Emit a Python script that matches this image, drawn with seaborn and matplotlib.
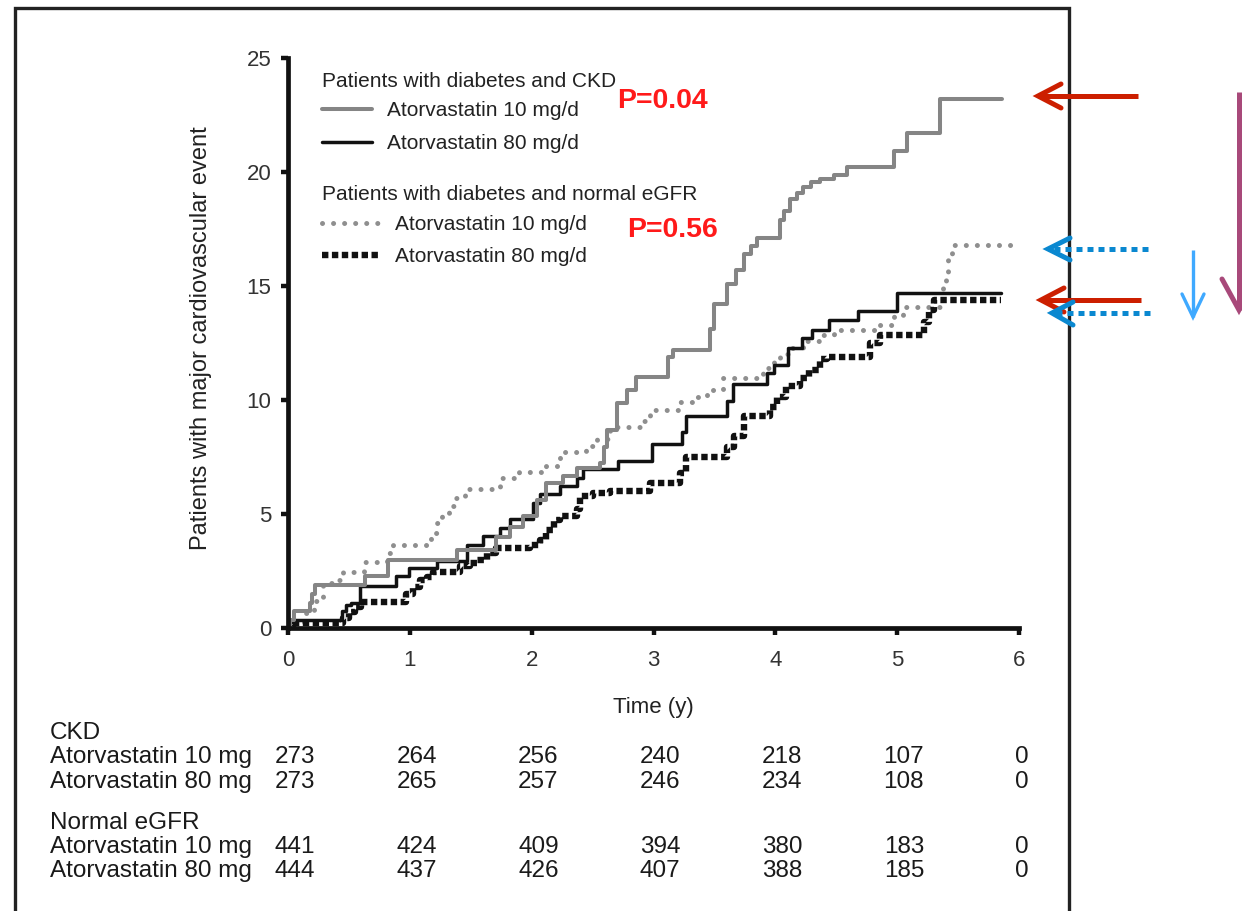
import numpy as np
import pandas as pd
import matplotlib
matplotlib.use("Agg")
import matplotlib.pyplot as plt
import seaborn as sns
from matplotlib.lines import Line2D
from matplotlib.transforms import blended_transform_factory

# Cumulative % of patients with a major cardiovascular event (step curves)
ckd_10_time = [0, 0.02, 0.05, 0.18, 0.20, 0.22, 0.63, 0.82, 1.39, 1.71, 1.82, 1.93, 2.04, 2.12,
               2.26, 2.37, 2.56, 2.59, 2.62, 2.70, 2.78, 2.86, 3.12, 3.16, 3.46, 3.50, 3.60, 3.68,
               3.74, 3.80, 3.85, 4.04, 4.07, 4.12, 4.18, 4.23, 4.29, 4.37, 4.48, 4.59, 4.97, 5.08,
               5.35, 5.86]
ckd_10_pct = [0, 0.37, 0.73, 1.10, 1.47, 1.90, 2.30, 2.98, 3.40, 4.00, 4.45, 4.90, 5.60, 6.35,
              6.65, 7.00, 7.25, 7.95, 8.70, 9.85, 10.45, 11.00, 11.90, 12.20, 13.10, 14.20, 15.10, 15.70,
              16.40, 16.75, 17.10, 17.90, 18.30, 18.80, 19.10, 19.35, 19.55, 19.70, 19.85, 20.20, 20.90, 21.70,
              23.20, 23.20]

ckd_80_time = [0, 0.05, 0.44, 0.48, 0.52, 0.59, 0.89, 0.99, 1.22, 1.47, 1.60, 1.74, 1.82, 2.01,
               2.07, 2.23, 2.37, 2.42, 2.71, 2.99, 3.23, 3.27, 3.60, 3.65, 3.93, 3.99, 4.10, 4.22,
               4.30, 4.44, 4.68, 5.00, 5.85]
ckd_80_pct = [0, 0.37, 0.73, 1.00, 1.10, 1.83, 2.26, 2.63, 2.93, 3.66, 4.03, 4.40, 4.76, 5.50,
              5.86, 6.23, 6.60, 6.96, 7.33, 8.06, 8.60, 9.30, 9.95, 10.70, 11.20, 11.55, 12.30, 12.70,
              13.05, 13.50, 13.90, 14.70, 14.70]

egfr_10_time = [0, 0.05, 0.13, 0.21, 0.29, 0.40, 0.45, 0.62, 0.81, 0.86, 1.17, 1.22, 1.26, 1.32,
                1.37, 1.45, 1.74, 1.90, 2.12, 2.23, 2.45, 2.54, 2.64, 2.92, 2.97, 3.22, 3.33, 3.44,
                3.57, 3.90, 3.99, 4.04, 4.12, 4.23, 4.37, 4.48, 4.86, 4.97, 5.05, 5.38, 5.40, 5.42,
                5.45, 5.96]
egfr_10_pct = [0, 0.25, 0.64, 1.20, 1.96, 2.10, 2.47, 2.90, 3.27, 3.65, 4.15, 4.60, 5.00, 5.35,
               5.70, 6.10, 6.60, 6.84, 7.10, 7.70, 8.00, 8.30, 8.80, 9.10, 9.56, 9.93, 10.15, 10.44,
               10.96, 11.40, 11.70, 12.00, 12.30, 12.60, 12.85, 13.07, 13.30, 13.70, 14.10, 14.90, 15.60, 16.30,
               16.80, 16.80]

egfr_80_time = [0, 0.05, 0.45, 0.50, 0.55, 0.60, 0.97, 1.03, 1.08, 1.14, 1.19, 1.41, 1.49, 1.55,
                1.63, 1.71, 1.99, 2.07, 2.12, 2.18, 2.23, 2.37, 2.40, 2.50, 2.64, 2.97, 3.22, 3.27,
                3.60, 3.66, 3.74, 3.96, 4.01, 4.09, 4.20, 4.28, 4.37, 4.42, 4.78, 4.86, 5.22, 5.26,
                5.30, 5.85]
egfr_80_pct = [0, 0.23, 0.45, 0.70, 0.90, 1.15, 1.50, 1.80, 2.10, 2.25, 2.47, 2.70, 2.85, 3.00,
               3.30, 3.50, 3.64, 3.86, 4.30, 4.74, 4.90, 5.20, 5.80, 5.90, 6.00, 6.35, 6.80, 7.50,
               7.95, 8.40, 9.30, 9.70, 10.15, 10.60, 10.96, 11.30, 11.80, 11.90, 12.50, 12.85, 13.40, 13.95,
               14.40, 14.40]

# Numbers at risk
risk_years = [0, 1, 2, 3, 4, 5, 6]
risk_ckd_10 = [273, 264, 256, 240, 218, 107, 0]
risk_ckd_80 = [273, 265, 257, 246, 234, 108, 0]
risk_egfr_10 = [441, 424, 409, 394, 380, 183, 0]
risk_egfr_80 = [444, 437, 426, 407, 388, 185, 0]

legend_ckd_title = "Patients with diabetes and CKD"
legend_egfr_title = "Patients with diabetes and normal eGFR"
dose_labels = ["Atorvastatin 10 mg/d", "Atorvastatin 80 mg/d"]
p_values = ["P=0.04", "P=0.56"]

sns.set_theme(style="ticks")
plt.rcParams["font.family"] = ["Liberation Sans", "DejaVu Sans"]
plt.rcParams["text.color"] = "#222222"
plt.rcParams["axes.labelcolor"] = "#222222"

W, H = 1242, 911
fig = plt.figure(figsize=(W / 100, H / 100), dpi=100)
fig.patch.set_facecolor("white")
ax = fig.add_axes([288 / W, 1 - 628 / H, (1019 - 288) / W, (628 - 58) / H])
ax.set_facecolor("white")

styles = {
    "ckd10": dict(color="#858585", linewidth=2.9, linestyle="-"),
    "ckd80": dict(color="#111111", linewidth=2.5, linestyle="-"),
    "egfr10": dict(color="#8f8f8f", linewidth=3.6, linestyle=(0, (0.01, 2.2)),
                   dash_capstyle="round"),
    "egfr80": dict(color="#111111", linewidth=4.6, linestyle=(0, (1.0, 0.55)),
                   dash_capstyle="butt"),
}

frames = []
for key, t, v in [("ckd10", ckd_10_time, ckd_10_pct), ("ckd80", ckd_80_time, ckd_80_pct),
                  ("egfr10", egfr_10_time, egfr_10_pct), ("egfr80", egfr_80_time, egfr_80_pct)]:
    frames.append(pd.DataFrame({"time": t, "pct": v, "group": key}))
df = pd.concat(frames, ignore_index=True)

for key in ["egfr10", "egfr80", "ckd80", "ckd10"]:
    sns.lineplot(data=df[df["group"] == key], x="time", y="pct", ax=ax,
                 drawstyle="steps-post", estimator=None, sort=False, legend=False,
                 **styles[key])

ax.set_xlim(0, 6)
ax.set_ylim(0, 25)
ax.set_xticks(risk_years)
ax.set_yticks([0, 5, 10, 15, 20, 25])
sns.despine(ax=ax)
for s in ["left", "bottom"]:
    ax.spines[s].set_linewidth(3.4)
    ax.spines[s].set_color("#111111")
    ax.spines[s].set_capstyle("projecting")
ax.tick_params(axis="both", direction="out", length=5, width=3.2, color="#111111",
               labelsize=16, labelcolor="#333333")
ax.tick_params(axis="x", pad=11)
ax.tick_params(axis="y", pad=7)
ax.set_xlabel("Time (y)", fontsize=16)
ax.set_ylabel("Patients with major cardiovascular event", fontsize=17)
ax.xaxis.set_label_coords(0.5, -0.121)
ax.yaxis.set_label_coords(-0.104, 0.509)

# Legends, one per patient group, each with a header line above it
def handle(key):
    return Line2D([], [], **styles[key])

ax.text(0.0465, 0.9596, legend_ckd_title, transform=ax.transAxes, fontsize=15,
        va="center", ha="left")
leg1 = ax.legend(handles=[handle("ckd10"), handle("ckd80")], labels=dose_labels,
                 loc="upper left", bbox_to_anchor=(0.0465, 0.9245),
                 frameon=False, handlelength=2.4, handletextpad=0.72,
                 labelspacing=0.69, borderpad=0, borderaxespad=0, fontsize=15)
ax.add_artist(leg1)
ax.text(0.0465, 0.7614, legend_egfr_title, transform=ax.transAxes, fontsize=15,
        va="center", ha="left")
leg2 = ax.legend(handles=[handle("egfr10"), handle("egfr80")], labels=dose_labels,
                 loc="upper left", bbox_to_anchor=(0.0465, 0.7245),
                 frameon=False, handlelength=2.7, handletextpad=0.8,
                 labelspacing=0.64, borderpad=0, borderaxespad=0, fontsize=15)

ax.text(2.70, 23.1, p_values[0], color="#ff1a1a", fontsize=20.5, fontweight="bold",
        va="center", ha="left")
ax.text(2.78, 17.45, p_values[1], color="#ff1a1a", fontsize=20.5, fontweight="bold",
        va="center", ha="left")

# Numbers-at-risk table below the axis
tab = blended_transform_factory(ax.transData, fig.transFigure)
rows = [("CKD", None, 733), ("Atorvastatin 10 mg", risk_ckd_10, 757),
        ("Atorvastatin 80 mg", risk_ckd_80, 782), ("Normal eGFR", None, 823),
        ("Atorvastatin 10 mg", risk_egfr_10, 847), ("Atorvastatin 80 mg", risk_egfr_80, 871)]
for label, counts, ypix in rows:
    fig.text(50 / W, 1 - ypix / H, label, fontsize=17.5, va="center", ha="left", color="#1a1a1a")
    if counts is not None:
        for yr, n in zip(risk_years, counts):
            ax.text(yr + (0.055 if yr < 6 else 0.02), 1 - ypix / H, str(n), transform=tab,
                    fontsize=17.5, va="center", ha="center", color="#1a1a1a")

# Figure frame and side arrows (pixel coordinates, top-left origin)
def fig_line(xs, ys, **kw):
    fig.add_artist(Line2D([x / W for x in xs], [1 - y / H for y in ys],
                          transform=fig.transFigure, **kw))

fig_line([15, 15, 1069, 1069], [925, 8, 8, 925], color="#222222", linewidth=2.4,
         solid_joinstyle="miter")

def arrow(tail, tip, arm1, arm2, color, lw, ls="-"):
    fig_line([tail[0], tip[0]], [tail[1], tip[1]], color=color, linewidth=lw, linestyle=ls,
             solid_capstyle="butt", dash_capstyle="butt")
    fig_line([arm1[0], tip[0], arm2[0]], [arm1[1], tip[1], arm2[1]], color=color, linewidth=lw,
             solid_capstyle="round", solid_joinstyle="miter")

red = "#cc1f00"
blue = "#0a88d0"
arrow((1138, 96), (1038, 96), (1061, 84), (1061, 108), red, 3.6)
arrow((1141, 300), (1041, 300), (1064, 288), (1064, 312), red, 3.6)
arrow((1148, 249), (1048, 249), (1070, 238), (1070, 260), blue, 3.6, ls=(0, (1.2, 1.0)))
arrow((1150, 313), (1052, 313), (1073, 302), (1073, 325), blue, 3.6, ls=(0, (1.2, 1.0)))
arrow((1193, 250), (1193, 317), (1182, 294), (1204, 294), "#3fa9ff", 2.4)
arrow((1239, 92), (1239, 310), (1222, 279), (1256, 279), "#a8497a", 3.6)

fig.savefig("out.png", dpi=100, facecolor="white")
